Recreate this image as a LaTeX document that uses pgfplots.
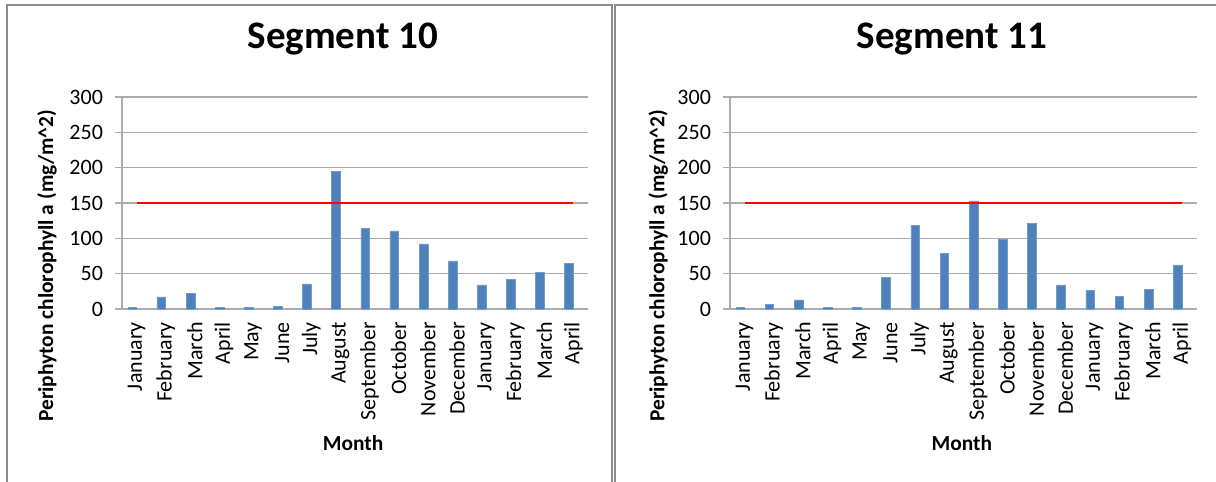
\documentclass[border=0pt]{standalone}
\usepackage{fontspec}
\setmainfont{Carlito}
\usepackage{pgfplots}
\pgfplotsset{compat=1.18}
\definecolor{barblue}{HTML}{4F81BD}
\definecolor{gridgray}{HTML}{ABABAB}
\definecolor{framegray}{HTML}{8C8C8C}
\pgfplotsset{
  segstyle/.style={
    scale only axis,
    width=233pt, height=106pt,
    anchor=south west,
    xmin=-0.5, xmax=15.5,
    ymin=0, ymax=300,
    ytick={0,50,...,300},
    axis lines=left,
    axis line style={-, draw=gridgray, line width=0.6pt},
    ymajorgrids,
    grid style={draw=gridgray, line width=0.6pt},
    tick align=outside,
    xtick={0,...,15},
    xticklabels={January,February,March,April,May,June,July,August,September,October,November,December,January,February,March,April},
    minor xtick={-0.5,0.5,...,15.5},
    xtick style={draw=none},
    minor tick style={draw=gridgray, line width=0.6pt},
    minor tick length=3pt,
    ytick style={draw=gridgray, line width=0.6pt},
    major tick length=3.5pt,
    /pgf/number format/assume math mode=true,
    tick label style={font=\fontsize{11}{13}\selectfont},
    yticklabel style={xshift=-2.5pt},
    xticklabel style={rotate=90, anchor=east, xshift=0.5pt},
    label style={font=\bfseries\fontsize{10.7}{12}\selectfont},
    xlabel={Month},
    ylabel={Periphyton chlorophyll a (mg/m\textasciicircum 2)},
    title style={font=\bfseries\fontsize{19.5}{22}\selectfont, anchor=base},
    clip=false,
  },
  barst/.style={ybar, fill=barblue, draw=barblue!80!white, line width=0.3pt, bar width=4.35pt, bar shift=-2.17pt},
  redst/.style={red, line width=1pt, mark=none}
}
\begin{document}
\begin{tikzpicture}
\useasboundingbox (0,0) rectangle (608pt,241pt);
\draw[framegray, line width=1pt] (3.35pt,0) -- (3.35pt,238.5pt) -- (305.85pt,238.5pt) -- (305.85pt,0);
\draw[framegray, line width=1pt] (307.35pt,0) -- (307.35pt,238.5pt) -- (608pt,238.5pt);
\begin{axis}[segstyle, at={(61pt,86.5pt)},
  title={Segment 10},
  title style={at={(axis description cs:0.474,1.1745)}},
  ylabel style={at={(axis description cs:-0.161,0.203)}, anchor=center, rotate=0},
  xlabel style={at={(axis description cs:0.496,-0.632)}, anchor=center}]
\addplot[barst] coordinates {(0,2.4) (1,17) (2,21.7) (3,2.4) (4,2.4) (5,3.8) (6,35.4) (7,195) (8,113.8) (9,110.5) (10,92) (11,68) (12,34) (13,41.6) (14,52) (15,64.2)};
\addplot[redst] coordinates {(0,150) (15,150)};
\end{axis}
\begin{axis}[segstyle, at={(365pt,86.5pt)}, width=233.3pt,
  title={Segment 11},
  title style={at={(axis description cs:0.476,1.1745)}},
  ylabel style={at={(axis description cs:-0.154,0.203)}, anchor=center, rotate=0},
  xlabel style={at={(axis description cs:0.497,-0.632)}, anchor=center}]
\addplot[barst] coordinates {(0,2.4) (1,6.6) (2,12.8) (3,2.4) (4,2.4) (5,44.4) (6,118) (7,79) (8,153) (9,99.2) (10,121.4) (11,34) (12,26.5) (13,17.5) (14,27.9) (15,62.4)};
\addplot[redst] coordinates {(0,150) (15,150)};
\end{axis}
\end{tikzpicture}
\end{document}
